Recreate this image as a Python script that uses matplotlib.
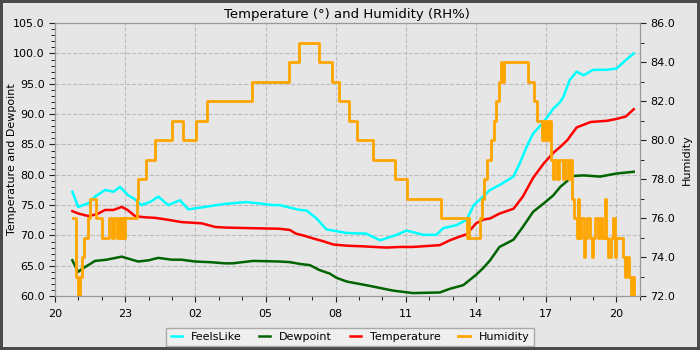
import datetime as dt
import matplotlib
import matplotlib.pyplot as plt
import matplotlib.dates as mdates
from matplotlib.ticker import MultipleLocator, FormatStrFormatter
matplotlib.use('Agg')

# time axis: hours counted from 20:00 on the first day
start = dt.datetime(2023, 7, 20, 20, 0)

temp_hours = [0.74, 1.0, 1.42, 1.8, 2.14, 2.5, 2.85, 3.1, 3.42, 3.8, 4.27, 4.8,
              5.41, 6.27, 6.84, 7.26, 8.33, 9.6, 10.04, 10.3, 10.7, 11.04, 11.5,
              11.9, 12.5, 13.17, 14.17, 14.74, 15.3, 16.45, 16.88, 17.3, 17.6,
              18.0, 18.3, 18.6, 19.0, 19.6, 20.0, 20.44, 20.9, 21.3, 21.6, 21.9,
              22.3, 22.9, 23.6, 24.0, 24.4, 24.74]
temperature = [74.0, 73.6, 73.2, 73.5, 74.2, 74.2, 74.7, 74.2, 73.2, 73.0, 72.9,
               72.6, 72.2, 72.0, 71.4, 71.3, 71.2, 71.1, 70.9, 70.3, 69.9, 69.5,
               69.0, 68.5, 68.3, 68.2, 68.0, 68.1, 68.1, 68.4, 69.2, 69.8, 70.2,
               72.0, 72.6, 72.8, 73.6, 74.4, 76.4, 79.5, 81.9, 83.6, 84.6, 85.7,
               87.8, 88.7, 88.9, 89.2, 89.6, 90.8]

dew_hours = [0.74, 0.99, 1.2, 1.42, 1.71, 2.2, 2.85, 3.2, 3.56, 4.0, 4.41, 5.0,
             5.41, 5.98, 6.6, 7.26, 7.6, 8.47, 9.6, 10.04, 10.47, 10.9, 11.3,
             11.75, 12.04, 12.47, 13.3, 14.46, 15.3, 16.45, 16.88, 17.45, 18.0,
             18.3, 18.6, 19.0, 19.6, 20.0, 20.44, 20.9, 21.3, 21.6, 22.15, 22.6,
             23.3, 24.0, 24.74]
dewpoint = [65.9, 64.0, 64.6, 65.1, 65.8, 66.0, 66.5, 66.1, 65.7, 65.9, 66.3, 66.0,
            66.0, 65.7, 65.6, 65.4, 65.4, 65.8, 65.7, 65.6, 65.3, 65.1, 64.3,
            63.7, 63.0, 62.4, 61.8, 60.9, 60.5, 60.6, 61.2, 61.8, 63.5,
            64.6, 65.9, 68.1, 69.3, 71.4, 73.9, 75.3, 76.6, 78.0, 79.8, 79.9,
            79.7, 80.2, 80.5]

feels_hours = [0.74, 0.99, 1.42, 1.71, 2.14, 2.5, 2.78, 3.13, 3.4, 3.7, 4.1, 4.41,
               4.84, 5.34, 5.7, 6.41, 7.26, 8.19, 9.33, 9.6, 10.47, 10.76, 11.18,
               11.6, 12.47, 13.3, 13.9, 14.6, 15.03, 15.74, 16.3, 16.6, 17.17,
               17.6, 17.9, 18.16, 18.6, 19.0, 19.6, 19.87, 20.16, 20.44, 20.87,
               21.3, 21.6, 21.75, 22.0, 22.3, 22.6, 23.0, 23.6, 24.0, 24.4, 24.74]
feelslike = [77.2, 74.7, 75.3, 76.4, 77.5, 77.2, 78.0, 76.6, 76.0, 75.0, 75.6, 76.4,
             75.0, 75.8, 74.3, 74.7, 75.2, 75.5, 75.0, 75.0, 74.2, 74.1, 72.8,
             71.0, 70.4, 70.3, 69.2, 70.1, 70.8, 70.1, 70.1, 71.2, 71.7,
             72.6, 75.0, 75.9, 77.5, 78.3, 79.7, 81.9, 84.6, 86.8, 88.6,
             90.9, 92.0, 93.0, 95.6, 97.0, 96.4, 97.3, 97.3, 97.5, 98.9, 100.0]

# humidity changes in whole percent steps
hum_hours = [0.78, 0.88, 0.97, 1.07, 1.14, 1.24, 1.42, 1.50, 1.74, 1.99, 2.32, 2.42,
             2.52, 2.64, 2.73, 2.78, 2.83, 2.87, 2.92, 2.95, 2.99, 3.49, 3.56,
             3.87, 4.27, 5.01, 5.48, 6.01, 6.48, 8.40, 10.0, 10.43, 11.28, 11.84,
             12.12, 12.56, 12.92, 13.58, 14.53, 15.03, 16.5, 17.6, 17.65, 17.7,
             18.16, 18.25, 18.32, 18.45, 18.62, 18.76, 18.87, 18.96, 19.06, 19.1,
             19.2, 20.23, 20.47, 20.61, 20.8, 20.85, 20.9, 20.95, 21.05, 21.1,
             21.2, 21.3, 21.35, 21.45, 21.55, 21.7, 21.8, 21.95, 22.0, 22.1, 22.2,
             22.3, 22.35, 22.4, 22.5, 22.6, 22.65, 22.75, 22.85, 22.95, 23.0,
             23.1, 23.2, 23.3, 23.4, 23.5, 23.55, 23.65, 23.75, 23.85, 23.95,
             24.0, 24.3, 24.38, 24.45, 24.55, 24.62, 24.66, 24.74]
humidity = [76, 73, 72, 73, 74, 75, 76, 77, 76, 75, 76, 75,
            76, 75, 76, 75, 76, 75, 76, 75, 76, 77, 78,
            79, 80, 81, 80, 81, 82, 83, 84, 85, 84, 83,
            82, 81, 80, 79, 78, 77, 76, 75, 76, 75,
            76, 77, 78, 79, 80, 81, 82, 83, 84, 83,
            84, 83, 82, 81, 80, 81, 80, 81, 80, 81,
            79, 78, 79, 78, 79, 78, 79, 78, 79, 77, 76,
            75, 77, 75, 76, 74, 75, 76, 75, 74, 75,
            76, 75, 76, 75, 77, 75, 74, 75, 76, 74,
            75, 74, 73, 74, 73, 72, 73, 72]


def to_times(hours):
    return [start + dt.timedelta(hours=h) for h in hours]


bg = '#e6e6e6'
fig = plt.figure(figsize=(7, 3.5), dpi=100, facecolor=bg,
                 edgecolor='#4a4a4a', linewidth=4)
ax = fig.add_axes([0.0786, 0.154, 0.8354, 0.78])
ax.set_facecolor(bg)

l1, = ax.plot(to_times(feels_hours), feelslike, color='#00ffff', lw=1.8, label='FeelsLike')
l2, = ax.plot(to_times(dew_hours), dewpoint, color='#006400', lw=1.8, label='Dewpoint')
l3, = ax.plot(to_times(temp_hours), temperature, color='#ff0000', lw=1.8, label='Temperature')

ax2 = ax.twinx()
l4, = ax2.plot(to_times(hum_hours), humidity, color='#ffa500', lw=2,
               drawstyle='steps-post', label='Humidity')

ax.set_xlim(start, start + dt.timedelta(hours=25))
ax.set_ylim(60, 105)
ax2.set_ylim(72, 86)

ax.xaxis.set_major_locator(mdates.HourLocator(byhour=[2, 5, 8, 11, 14, 17, 20, 23]))
ax.xaxis.set_minor_locator(mdates.HourLocator())
ax.xaxis.set_major_formatter(mdates.DateFormatter('%H'))
ax.yaxis.set_major_locator(MultipleLocator(5))
ax.yaxis.set_minor_locator(MultipleLocator(1))
ax.yaxis.set_major_formatter(FormatStrFormatter('%.1f'))
ax2.yaxis.set_major_locator(MultipleLocator(2))
ax2.yaxis.set_minor_locator(MultipleLocator(1))
ax2.yaxis.set_major_formatter(FormatStrFormatter('%.1f'))

for a in (ax, ax2):
    a.tick_params(labelsize=8, length=4, color='#222222')
    a.tick_params(which='minor', length=3)
    for s in a.spines.values():
        s.set_color('#999999')
ax.tick_params(axis='x', pad=5)

ax.grid(True, color='#bdbdbd', linestyle='--', linewidth=0.8)

ax.set_title('Temperature (°) and Humidity (RH%)', fontsize=9.5, pad=4)
ax.set_ylabel('Temperature and Dewpoint', fontsize=8)
ax.yaxis.set_label_coords(-0.065, 0.5)
ax2.set_ylabel('Humidity', fontsize=8)
ax2.yaxis.set_label_coords(1.072, 0.5)

leg = fig.legend(handles=[l1, l2, l3, l4], loc='center', bbox_to_anchor=(0.5, 0.037),
                 ncol=4, fontsize=8, handlelength=1.0, fancybox=False,
                 frameon=True, borderpad=0.4, columnspacing=1.6, handletextpad=0.8)
leg.get_frame().set_facecolor('#f2f2f2')
leg.get_frame().set_edgecolor('#999999')

plt.savefig('out.png', dpi=100, facecolor=bg)
plt.close()
